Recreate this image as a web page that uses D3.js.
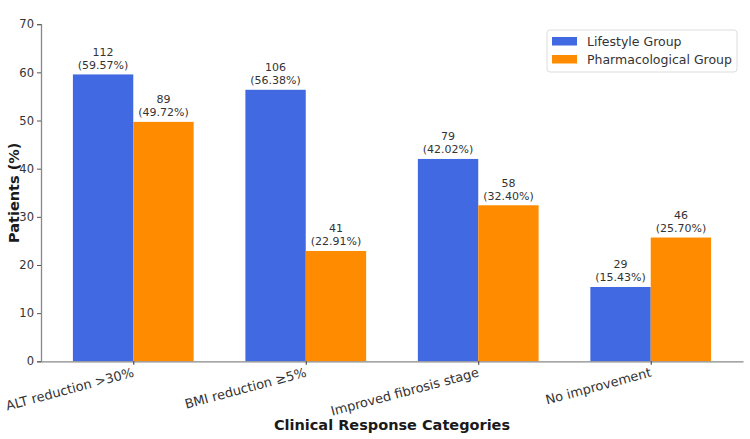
<!DOCTYPE html>
<html lang="en">
<head>
<meta charset="UTF-8">
<title>Clinical Response Categories</title>
<script src="https://d3js.org/d3.v7.min.js"></script>
<style>
  body { margin: 0; background: #fff; }
  text { font-family: "DejaVu Sans", sans-serif; }
</style>
</head>
<body>
<svg width="750" height="439"></svg>
<script>
// data
const categories = ["ALT reduction >30%", "BMI reduction \u22655%", "Improved fibrosis stage", "No improvement"];
const groups = ["Lifestyle Group", "Pharmacological Group"];
const lifestylePct = [59.57, 56.38, 42.02, 15.43];
const lifestyleN = [112, 106, 79, 29];
const pharmaPct = [49.72, 22.91, 32.40, 25.70];
const pharmaN = [89, 41, 58, 46];
const yTicks = [0, 10, 20, 30, 40, 50, 60, 70];
const colors = ["#4169E1", "#FF8C00"];

const svg = d3.select("svg");
const plotL = 41, plotR = 743, plotT = 24.2, plotB = 361.3;
const w = 0.35;

// x in category units like matplotlib (with 5% margins)
const x = d3.scaleLinear().domain([-0.535, 3.535]).range([plotL, plotR]);
const y = d3.scaleLinear().domain([0, 70]).range([plotB, plotT]);

const series = [
  {pct: lifestylePct, n: lifestyleN, off: -w / 2, color: colors[0]},
  {pct: pharmaPct, n: pharmaN, off: w / 2, color: colors[1]}
];

// bars
series.forEach(function (s) {
  svg.append("g").selectAll("rect")
    .data(s.pct).enter().append("rect")
    .attr("x", (d, i) => x(i + s.off - w / 2))
    .attr("width", x(w) - x(0))
    .attr("y", d => y(d))
    .attr("height", d => y(0) - y(d))
    .attr("fill", s.color);

  // value labels
  const lab = svg.append("g").selectAll("text")
    .data(s.pct).enter().append("text")
    .attr("text-anchor", "middle")
    .attr("font-size", "11px")
    .attr("fill", "#333");
  lab.append("tspan")
    .attr("x", (d, i) => x(i + s.off))
    .attr("y", d => y(d) - 18.5)
    .text((d, i) => s.n[i]);
  lab.append("tspan")
    .attr("x", (d, i) => x(i + s.off))
    .attr("y", d => y(d) - 5.5)
    .text(d => "(" + d.toFixed(2) + "%)");
});

// y axis
const yAxis = svg.append("g")
  .attr("transform", `translate(${plotL},0)`)
  .call(d3.axisLeft(y).tickValues(yTicks).tickSize(4).tickPadding(3));
yAxis.select(".domain").attr("stroke", "#888").attr("stroke-width", 1.3);
yAxis.selectAll(".tick line").attr("stroke", "#555");
yAxis.selectAll(".tick text").attr("font-size", "11.5px").attr("fill", "#333")
  .style("font-family", "DejaVu Sans, sans-serif");

// x axis
const xAxis = svg.append("g")
  .attr("transform", `translate(0,${plotB})`)
  .call(d3.axisBottom(x).tickValues(d3.range(categories.length))
    .tickFormat(i => categories[i]).tickSize(3.5).tickSizeOuter(0));
xAxis.select(".domain").attr("stroke", "#888").attr("stroke-width", 1.3);
xAxis.selectAll(".tick line").attr("stroke", "#333");
xAxis.selectAll(".tick text")
  .attr("font-size", "13px").attr("fill", "#333")
  .style("font-family", "DejaVu Sans, sans-serif")
  .attr("text-anchor", "end")
  .attr("dy", null)
  .attr("y", 0)
  .attr("transform", "translate(1,15) rotate(-15)");

// axis titles
svg.append("text")
  .attr("x", (plotL + plotR) / 2).attr("y", 430)
  .attr("text-anchor", "middle")
  .attr("font-size", "14.5px").attr("font-weight", "bold").attr("fill", "#1a1a1a")
  .text("Clinical Response Categories");
svg.append("text")
  .attr("transform", `translate(19,${(plotT + plotB) / 2}) rotate(-90)`)
  .attr("text-anchor", "middle")
  .attr("font-size", "14.5px").attr("font-weight", "bold").attr("fill", "#1a1a1a")
  .text("Patients (%)");

// legend
const lg = svg.append("g").attr("transform", "translate(547,30)");
lg.append("rect")
  .attr("width", 190).attr("height", 42).attr("rx", 3)
  .attr("fill", "#fff").attr("stroke", "#ddd");
groups.forEach(function (g, i) {
  lg.append("rect")
    .attr("x", 5).attr("y", 7 + i * 18)
    .attr("width", 25).attr("height", 8.5)
    .attr("fill", colors[i]);
  lg.append("text")
    .attr("x", 40).attr("y", 16 + i * 18)
    .attr("font-size", "12.5px").attr("fill", "#333")
    .text(g);
});
</script>
</body>
</html>
